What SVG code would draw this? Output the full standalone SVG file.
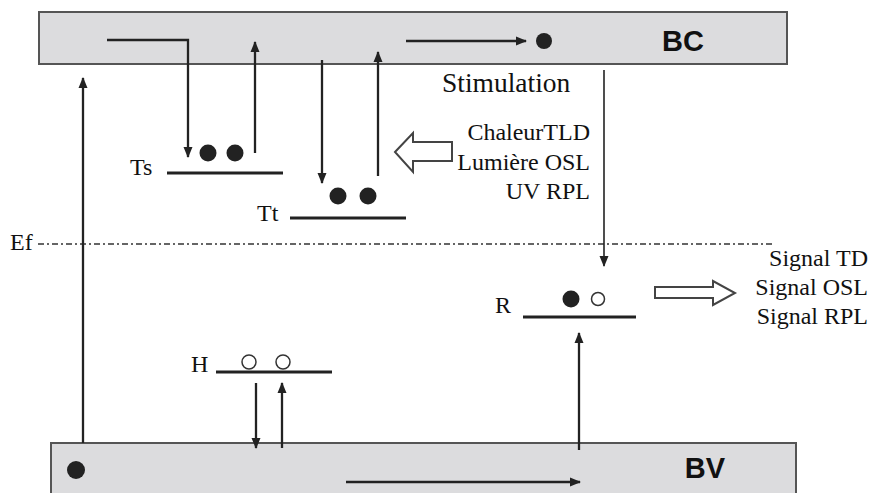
<svg xmlns="http://www.w3.org/2000/svg" width="875" height="493" viewBox="0 0 875 493">
<style>
.band{fill:#dcdcde;stroke:#555;stroke-width:2}
.band-label{font-family:"Liberation Sans",Arial,sans-serif;font-weight:bold;font-size:29px;fill:#111}
.lbl{font-family:"Liberation Serif","Times New Roman",serif;font-size:24px;fill:#111}
.lvl{stroke:#222;stroke-width:2.8;fill:none}
.arr{stroke:#222;stroke-width:2.3;fill:none;marker-end:url(#ah)}
.full{fill:#222}
.hole{fill:#fff;stroke:#333;stroke-width:1.5}
.hollow{fill:#fff;stroke:#444;stroke-width:2}
.fermi{stroke:#333;stroke-width:1.4;stroke-dasharray:6 3 2 3}
</style>
<defs>
<marker id="ah" markerUnits="userSpaceOnUse" markerWidth="12" markerHeight="12" refX="10" refY="6" orient="auto">
<path d="M0,1.5 L11,6 L0,10.5 z" fill="#222"/>
</marker>
</defs>
<g id="BC">
<rect class="band" x="39" y="12" width="748" height="52"/>
<text class="band-label" x="683" y="51" text-anchor="middle">BC</text>
<circle class="full" cx="544" cy="41" r="8"/>
</g>
<g id="BV">
<rect class="band" x="51" y="443" width="745" height="60"/>
<text class="band-label" x="705" y="478" text-anchor="middle">BV</text>
<circle class="full" cx="76" cy="470" r="9"/>
</g>
<g id="Ts">
<text class="lbl" x="130" y="175">Ts</text>
<line class="lvl" x1="167" y1="173" x2="283" y2="173"/>
<circle class="full" cx="208" cy="153" r="8.5"/>
<circle class="full" cx="235" cy="153" r="8.5"/>
</g>
<g id="Tt">
<text class="lbl" x="257" y="221">Tt</text>
<line class="lvl" x1="290" y1="218" x2="406" y2="218"/>
<circle class="full" cx="338" cy="196" r="8.5"/>
<circle class="full" cx="368" cy="196" r="8.5"/>
</g>
<g id="Ef">
<text class="lbl" x="10" y="250">Ef</text>
<line class="fermi" x1="38" y1="244" x2="772" y2="244"/>
</g>
<g id="R">
<text class="lbl" x="495" y="313">R</text>
<line class="lvl" x1="523" y1="317" x2="636" y2="317"/>
<circle class="full" cx="571" cy="299" r="8.5"/>
<circle class="hole" cx="598" cy="299" r="6.5"/>
</g>
<g id="H">
<text class="lbl" x="191" y="372">H</text>
<line class="lvl" x1="216" y1="372" x2="332" y2="372"/>
<circle class="hole" cx="249" cy="362" r="7"/>
<circle class="hole" cx="283" cy="362" r="7"/>
</g>
<g id="stimulus">
<text class="lbl" x="590" y="140" text-anchor="end">ChaleurTLD</text>
<text class="lbl" x="590" y="170" text-anchor="end">Lumière OSL</text>
<text class="lbl" x="590" y="199" text-anchor="end">UV RPL</text>
<polygon class="hollow" points="395,152 413,133 413,142 452,142 452,161 413,161 413,172"/>
</g>
<g id="signal">
<polygon class="hollow" points="655,287 713,287 713,281 735,293 713,305 713,298 655,298"/>
<text class="lbl" x="868" y="266" text-anchor="end">Signal TD</text>
<text class="lbl" x="868" y="295" text-anchor="end">Signal OSL</text>
<text class="lbl" x="868" y="324" text-anchor="end">Signal RPL</text>
</g>
<g id="stimulation-label">
<text class="lbl" x="442" y="92" style="font-size:27.5px">Stimulation</text>
</g>
<g id="connectors">
<line class="arr" x1="83" y1="443" x2="83" y2="78"/>
<polyline class="arr" points="107,40 188,40 188,157"/>
<line class="arr" x1="255" y1="153" x2="255" y2="42"/>
<line class="arr" x1="322" y1="60" x2="322" y2="183"/>
<line class="arr" x1="378" y1="176" x2="378" y2="52"/>
<line class="arr" x1="406" y1="41" x2="526" y2="41"/>
<line class="arr" x1="604" y1="70" x2="604" y2="266" style="stroke-width:1.6"/>
<line class="arr" x1="579" y1="450" x2="579" y2="333"/>
<line class="arr" x1="256" y1="383" x2="256" y2="448"/>
<line class="arr" x1="282" y1="448" x2="282" y2="383"/>
<line class="arr" x1="346" y1="482" x2="580" y2="482"/>
</g>
</svg>
